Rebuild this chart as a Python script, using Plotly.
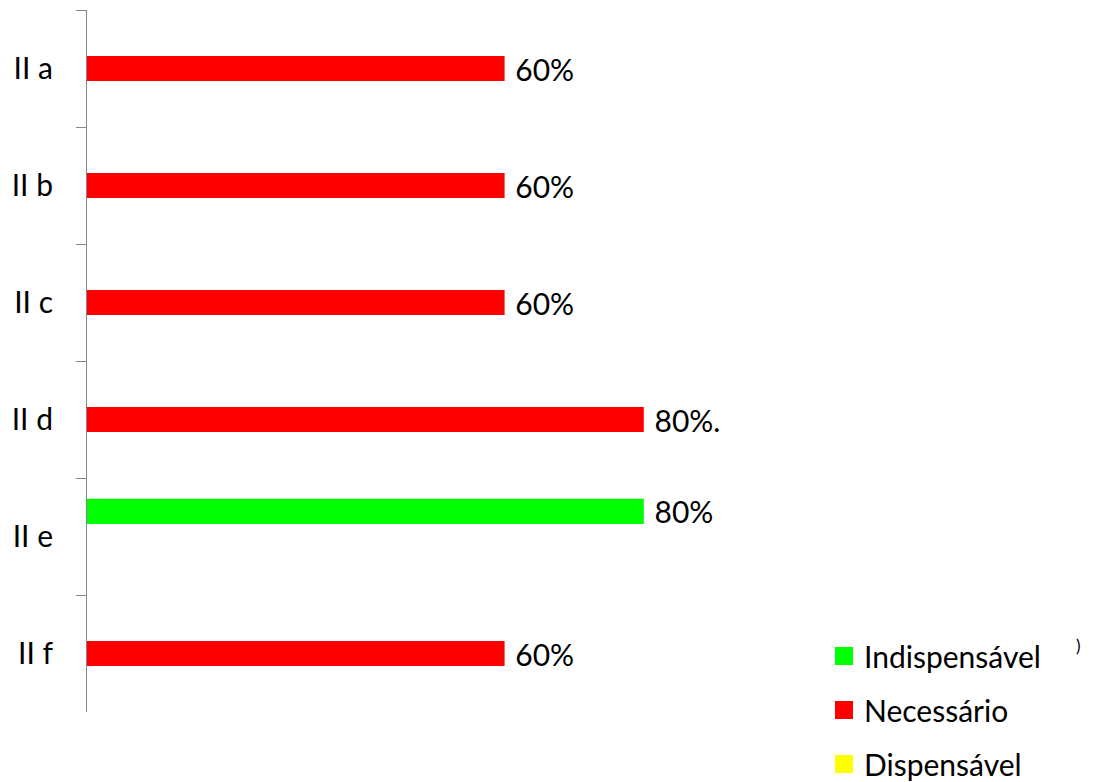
import plotly.graph_objects as go

categories = ["II a", "II b", "II c", "II d", "II e", "II f"]
series_names = ["Indispensável", "Necessário", "Dispensável"]
series_colors = ["#00FF00", "#FF0000", "#FFFF00"]
indispensavel = [None, None, None, None, 80, None]
necessario = [60, 60, 60, 80, None, 60]
dispensavel = [None, None, None, None, None, None]
indispensavel_labels = ["", "", "", "", "80%", ""]
necessario_labels = ["60%", "60%", "60%", "80%.", "", "60%"]
dispensavel_labels = ["", "", "", "", "", ""]

values = [indispensavel, necessario, dispensavel]
labels = [indispensavel_labels, necessario_labels, dispensavel_labels]

FONT = "Lato"
NB = "\u00a0"

fig = go.Figure()
for name, color, vals, labs in zip(series_names, series_colors, values, labels):
    fig.add_trace(go.Bar(
        y=categories, x=vals, orientation="h", name=name,
        marker=dict(color=color, line=dict(width=0)),
        text=[(NB + t) if t else "" for t in labs],
        textposition="outside", cliponaxis=False, constraintext="none",
        textfont=dict(family=FONT, size=30, color="#000000"),
        showlegend=False, hoverinfo="skip",
    ))
# legend entries (square swatches)
for i, (name, color) in enumerate(zip(series_names, series_colors)):
    fig.add_trace(go.Scatter(
        x=[None], y=[None], mode="markers", name=name, legendgroup=f"g{i}",
        marker=dict(symbol="square", size=16, color=color, line=dict(color=color, width=2)),
        showlegend=True,
    ))

fig.update_layout(
    width=1094, height=782,
    margin=dict(l=87, r=1094 - 87 - 696, t=10, b=70, autoexpand=False),
    paper_bgcolor="white", plot_bgcolor="white",
    barmode="group", bargap=0.355, bargroupgap=0,
    font=dict(family=FONT, size=30, color="#000000"),
    showlegend=True,
    legend=dict(
        x=(824 - 87) / 696, xanchor="left",
        y=(712 - 630) / 702, yanchor="top",
        font=dict(family=FONT, size=30, color="#000000"),
        tracegroupgap=12, traceorder="grouped",
        bgcolor="rgba(0,0,0,0)",
    ),
    xaxis=dict(range=[0, 100], visible=False),
    yaxis=dict(
        type="category", autorange="reversed",
        showline=True, linecolor="#868686", linewidth=1,
        ticks="outside", ticklen=10, tickcolor="#868686", tickwidth=1,
        tickson="boundaries", showgrid=False, zeroline=False,
        tickfont=dict(family=FONT, size=30, color="#000000"),
        ticklabelstandoff=27,
    ),
    annotations=[dict(
        text=")", xref="paper", yref="paper",
        x=(1083 - 87) / 696, y=(712 - 658) / 702,
        showarrow=False, font=dict(family=FONT, size=17, color="#000000"),
    )],
)

fig.write_html("out.html")
